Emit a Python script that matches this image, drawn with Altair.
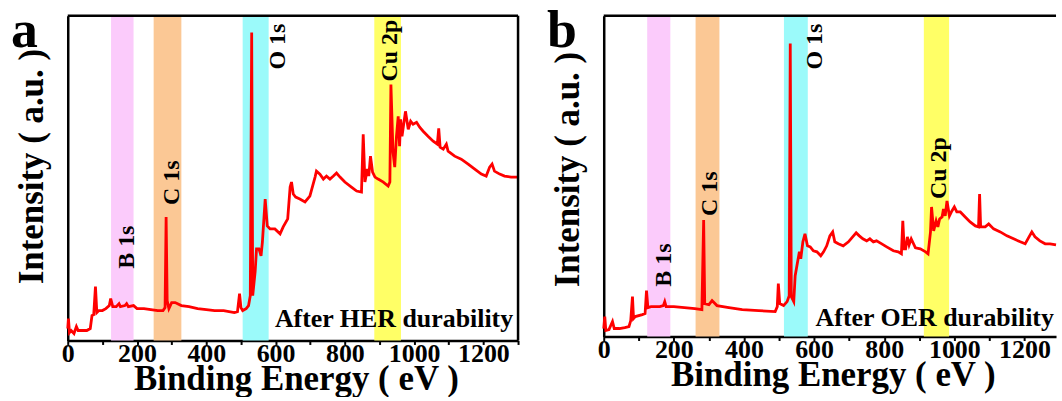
import altair as alt
import pandas as pd

# XPS survey spectrum after HER durability test (binding energy in eV, intensity in a.u.)
her_ev = [0, 2, 5, 10, 18, 25, 30, 40, 55, 65, 70, 75, 80, 84, 90, 100, 110, 120, 124, 130,
          140, 148, 152, 165, 170, 175, 190, 200, 220, 240, 260, 275, 281, 284, 287, 292, 300, 310, 328, 350,
          375, 400, 424, 450, 481, 490, 496, 500, 505, 515, 522, 527, 531, 534, 541, 545, 552, 558, 562, 570,
          576, 584, 598, 613, 622, 635, 642, 646, 651, 658, 670, 685, 699, 714, 718, 728, 738, 747, 757, 767,
          776, 786, 800, 819, 834, 848, 853, 858, 865, 869, 874, 880, 887, 896, 911, 925, 930, 933, 939, 944,
          949, 954, 958, 961, 965, 975, 983, 990, 997, 1007, 1016, 1026, 1040, 1055, 1067, 1071, 1075, 1084, 1093, 1098,
          1117, 1136, 1156, 1175, 1194, 1208, 1218, 1225, 1232, 1247, 1261, 1280, 1300]
her_int = [12, 22, 8, 10, 7, 14, 10, 10, 10, 12, 25, 26, 54, 28, 30, 30, 32, 35, 42, 34,
           34, 37, 34, 35, 37, 34, 35, 32, 32, 31, 30, 30, 33, 124, 40, 32, 38, 38, 35, 34,
           32, 31, 30, 30, 28, 29, 47, 33, 30, 32, 35, 45, 309, 45, 69, 92, 92, 85, 99, 142,
           115, 112, 112, 107, 114, 122, 154, 159, 147, 144, 142, 139, 145, 164, 170, 167, 162, 165, 162, 165,
           168, 164, 159, 154, 150, 149, 207, 159, 172, 165, 185, 169, 164, 162, 159, 155, 159, 257, 189, 174,
           205, 225, 195, 222, 205, 230, 212, 220, 217, 219, 214, 210, 205, 200, 197, 213, 194, 192, 197, 190,
           185, 182, 177, 172, 167, 165, 174, 177, 170, 167, 165, 164, 164]

# XPS survey spectrum after OER durability test
oer_ev = [0, 3, 6, 15, 25, 30, 45, 60, 72, 77, 82, 85, 90, 110, 118, 122, 126, 135, 160, 170,
          174, 178, 200, 230, 260, 280, 285, 288, 300, 309, 323, 357, 395, 442, 489, 495, 498, 502, 513, 523,
          529, 532, 535, 542, 546, 553, 558, 562, 568, 574, 581, 589, 598, 608, 619, 627, 636, 645, 653, 659,
          669, 683, 698, 710, 720, 729, 739, 750, 759, 769, 778, 793, 807, 826, 840, 849, 853, 857, 861, 866,
          871, 877, 889, 903, 918, 925, 932, 935, 941, 948, 953, 958, 965, 969, 974, 979, 986, 993, 1000, 1007,
          1017, 1031, 1045, 1060, 1069, 1072, 1075, 1088, 1098, 1112, 1131, 1150, 1169, 1188, 1202, 1213, 1221, 1230, 1244, 1259,
          1273, 1290]
oer_int = [8, 20, 6, 7, 15, 8, 8, 9, 10, 16, 40, 18, 20, 22, 23, 46, 29, 30, 30, 31,
           35, 30, 30, 29, 28, 27, 117, 33, 32, 36, 31, 29, 27, 26, 25, 30, 53, 33, 31, 35,
           41, 294, 40, 35, 61, 75, 85, 78, 95, 103, 91, 90, 86, 85, 81, 85, 91, 101, 105, 95,
           93, 91, 95, 100, 104, 101, 98, 96, 98, 95, 96, 93, 90, 86, 85, 83, 116, 88, 88, 100,
           92, 98, 89, 88, 85, 83, 105, 130, 106, 116, 110, 118, 120, 128, 121, 136, 121, 126, 130, 125,
           125, 120, 115, 111, 110, 143, 110, 110, 113, 108, 105, 101, 98, 95, 93, 100, 105, 100, 96, 93,
           93, 92]

# Core-level regions highlighted on both spectra
band_names = ["B 1s", "C 1s", "O 1s", "Cu 2p"]
band_colors = ["#FBCBFB", "#FBC895", "#9BFAFA", "#FFFF66"]
her_band_lo = [125, 248, 505, 885]
her_band_hi = [190, 328, 580, 962]
oer_band_lo = [124, 262, 514, 913]
oer_band_hi = [190, 330, 582, 985]

# Where each core-level label starts (baseline position, rotated text)
her_label_ev = [191, 320, 627, 951]
her_label_int = [72, 136, 272, 260]
oer_label_ev = [193, 324, 622, 977]
oer_label_int = [50, 121, 268, 138]

FONT = "Liberation Serif"
BLACK = "#000000"


def panel(ev, inten, band_lo, band_hi, lab_ev, lab_int, note, note_ev, note_int,
          letter, width, height, xmax, ymax, title_y, right_frame, margin):
    xs = alt.Scale(domain=[0, xmax], nice=False, zero=False)
    ys = alt.Scale(domain=[0, ymax], nice=False, zero=False)

    x_axis = alt.Axis(
        values=list(range(0, 1301, 100)),
        labelExpr="datum.value % 200 == 0 ? datum.label : ''",
        format="d", grid=False, labelFlush=False, labelOverlap=False,
        tickSize=4, tickWidth=2, tickColor=BLACK,
        domainWidth=2.5, domainColor=BLACK,
        labelFont=FONT, labelFontSize=26, labelFontWeight="bold", labelColor=BLACK,
        labelPadding=-4,
        title="Binding Energy ( eV )", titleFont=FONT, titleFontSize=35,
        titleFontWeight="bold", titleColor=BLACK,
        titleX=width / 2 + 3, titleY=49, titleAlign="center", titleBaseline="alphabetic",
    )
    y_axis = alt.Axis(
        labels=False, ticks=False, grid=False,
        domainWidth=2.5, domainColor=BLACK,
        title="Intensity ( a.u. )", titleFont=FONT, titleFontSize=35,
        titleFontWeight="bold", titleColor=BLACK,
        titleAngle=270, titleX=-25.5, titleY=title_y,
        titleAlign="center", titleBaseline="alphabetic",
    )
    xenc = alt.X("ev:Q", scale=xs, axis=x_axis)
    yenc = alt.Y("intensity:Q", scale=ys, axis=y_axis)

    bands = pd.DataFrame({"peak": band_names, "ev": band_lo, "ev_end": band_hi})
    band_layer = alt.Chart(bands).mark_rect().encode(
        x=xenc,
        x2="ev_end:Q",
        y=alt.value(0), y2=alt.value(height),
        color=alt.Color("peak:N", scale=alt.Scale(domain=band_names, range=band_colors), legend=None),
    )

    spectrum = pd.DataFrame({"ev": ev, "intensity": inten})
    line_layer = alt.Chart(spectrum).mark_line(color="#FF0000", strokeWidth=2.8).encode(
        x=xenc, y=yenc,
    )

    labels = pd.DataFrame({"peak": band_names, "ev": lab_ev, "intensity": lab_int})
    label_layer = alt.Chart(labels).mark_text(
        angle=270, align="left", baseline="alphabetic",
        font=FONT, fontSize=24, fontWeight="bold", color=BLACK,
    ).encode(x=xenc, y=yenc, text="peak:N")

    note_df = pd.DataFrame({"ev": [note_ev], "intensity": [note_int], "text": [note]})
    note_layer = alt.Chart(note_df).mark_text(
        align="right", baseline="alphabetic",
        font=FONT, fontSize=26, fontWeight="bold", color=BLACK,
    ).encode(x=xenc, y=yenc, text="text:N")

    letter_layer = alt.Chart(pd.DataFrame({"text": [letter]})).mark_text(
        align="left", baseline="alphabetic",
        font=FONT, fontSize=54, fontWeight="bold", color=BLACK,
    ).encode(x=alt.value(-57), y=alt.value(31), text="text:N")

    frame = pd.DataFrame({"k": [0]})
    top_rule = alt.Chart(frame).mark_rule(color=BLACK, strokeWidth=2.5).encode(
        x=alt.value(0), x2=alt.value(width), y=alt.value(0)
    )
    layers = [band_layer, line_layer, label_layer, note_layer, letter_layer, top_rule]
    if right_frame:
        layers.append(
            alt.Chart(frame).mark_rule(color=BLACK, strokeWidth=2.5).encode(
                x=alt.value(width), y=alt.value(0), y2=alt.value(height)
            )
        )
    if margin:
        # invisible anchor fixing the page margin to the left of and above the plot
        layers.append(
            alt.Chart(frame).mark_rule(strokeOpacity=0, strokeWidth=0.1).encode(
                x=alt.value(-margin[0]), x2=alt.value(0), y=alt.value(-margin[1])
            )
        )
    return alt.layer(*layers).properties(width=width, height=height)


panel_a = panel(her_ev, her_int, her_band_lo, her_band_hi, her_label_ev, her_label_int,
                "After HER durability", 1286, 14, "a", 452, 326, 1300, 326, 151, True, (68, 15))
panel_b = panel(oer_ev, oer_int, oer_band_lo, oer_band_hi, oer_label_ev, oer_label_int,
                "After OER durability", 1284, 11, "b", 454, 322, 1290, 322, 154, False, None)

chart = alt.hconcat(panel_a, panel_b, spacing=86, bounds="flush").properties(
    padding=0,
    background="white",
).configure_view(strokeWidth=0)

chart.save("out.html", embed_options={"renderer": "svg", "actions": False})
